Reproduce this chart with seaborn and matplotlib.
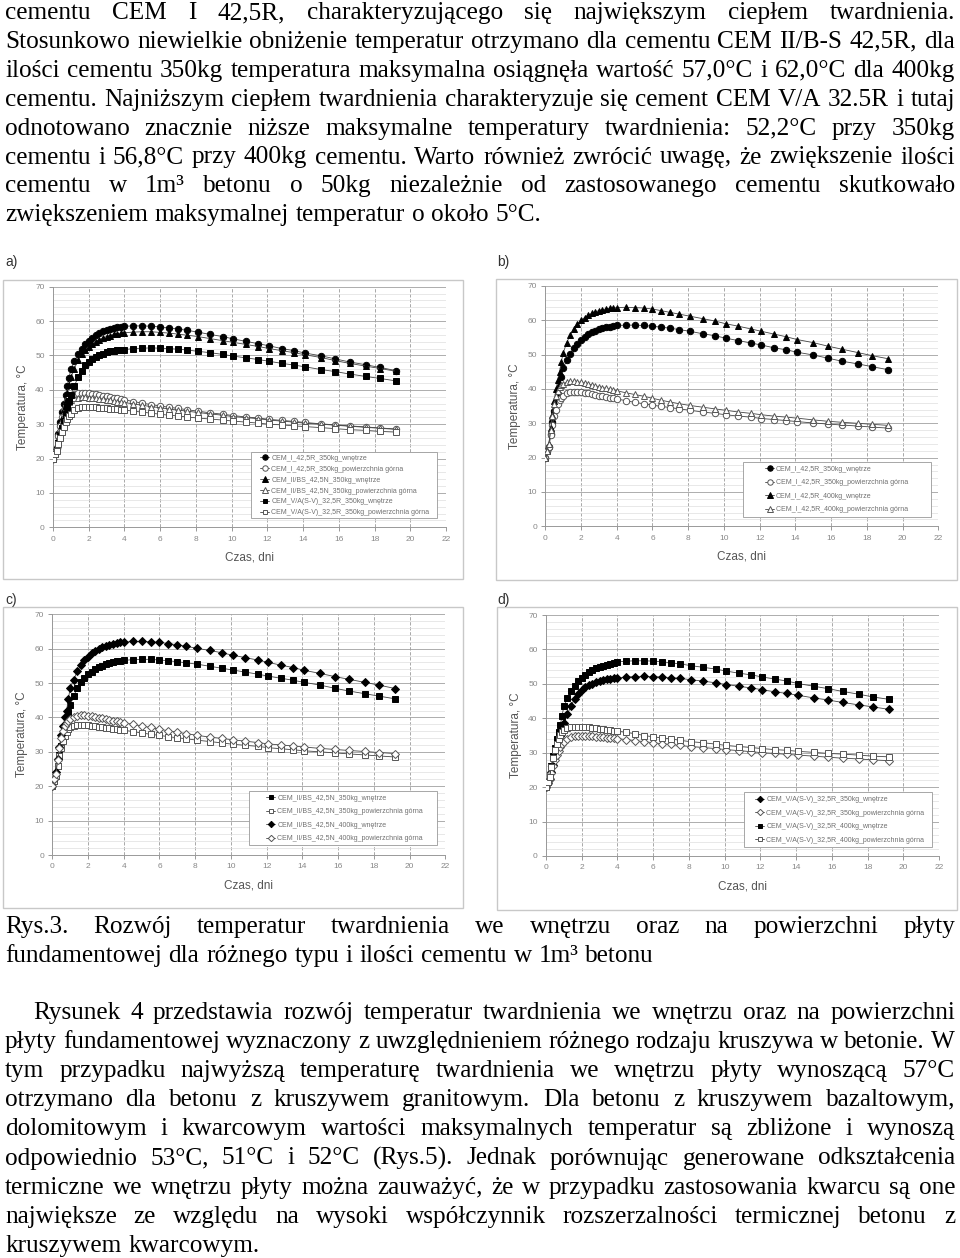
import matplotlib
matplotlib.use('Agg')
import matplotlib.pyplot as plt
from matplotlib.patches import Rectangle
from matplotlib.ticker import MultipleLocator
import seaborn as sns

# =========================
# DANE
# =========================

dni = [0, 0.1, 0.2, 0.3, 0.4, 0.5, 0.6, 0.7, 0.8, 0.9, 1.0, 1.2, 1.4, 1.6, 1.8, 2.0, 2.2, 2.4, 2.6, 2.8,
       3.0, 3.2, 3.4, 3.6, 3.8, 4.0, 4.5, 5.0, 5.5, 6.0, 6.5, 7.0, 7.5, 8.1, 8.8, 9.5, 10.1, 10.8, 11.5,
       12.1, 12.8, 13.5, 14.1, 15.0, 15.8, 16.6, 17.5, 18.3, 19.2]

# CEM I 42,5R
cem1_350_wn = [20, 21.8, 23.2, 27, 30.5, 33.5, 36, 38.5, 41, 43.5, 46, 48.4, 50.3, 51.9, 53.2, 54.3, 55.2,
               55.9, 56.5, 57.0, 57.4, 57.7, 58.0, 58.2, 58.4, 58.5, 58.6, 58.6, 58.5, 58.3, 58.0, 57.7,
               57.3, 56.8, 56.1, 55.5, 54.8, 54.1, 53.4, 52.8, 52.0, 51.4, 50.7, 49.9, 49.0, 48.1, 47.3,
               46.5, 45.6]
cem1_350_pow = [20, 21.8, 23.2, 26.5, 29.5, 32, 34, 35.5, 36.7, 37.5, 38.1, 38.7, 39.0, 39.1, 39.1, 39.0,
                38.9, 38.7, 38.5, 38.3, 38.1, 37.9, 37.7, 37.5, 37.3, 37.1, 36.6, 36.1, 35.7, 35.3, 34.9,
                34.6, 34.2, 33.8, 33.3, 32.9, 32.5, 32.1, 31.8, 31.4, 31.1, 30.8, 30.5, 30.1, 29.8, 29.5,
                29.2, 28.9, 28.6]
cem1_400_wn = [20, 22, 24, 28.5, 32.5, 36.5, 40, 42.5, 45, 48, 50.5, 53.5, 55.8, 57.6, 59.0, 60.0, 60.8,
               61.5, 62.0, 62.5, 62.8, 63.1, 63.3, 63.5, 63.6, 63.7, 63.8, 63.7, 63.6, 63.3, 62.8, 62.3,
               61.8, 61.2, 60.5, 59.8, 59.0, 58.3, 57.5, 56.8, 56.0, 55.2, 54.4, 53.5, 52.5, 51.6, 50.6,
               49.7, 48.8]
cem1_400_pow = [20, 22, 24, 28, 32, 35.5, 38, 39.5, 40.5, 41.1, 41.5, 42.0, 42.2, 42.2, 42.1, 41.9, 41.7,
                41.4, 41.2, 40.9, 40.7, 40.4, 40.2, 39.9, 39.7, 39.5, 38.9, 38.4, 37.9, 37.3, 36.7, 36.2,
                35.7, 35.2, 34.7, 34.2, 33.8, 33.3, 32.9, 32.5, 32.1, 31.8, 31.5, 31.0, 30.6, 30.3, 30.0,
                29.7, 29.4]

# CEM II/B-S 42,5N
cem2_350_wn = [20, 21.5, 23, 26, 29, 31.8, 34.3, 36.8, 39.2, 41.5, 43.6, 46.2, 48.6, 50.4, 51.6, 52.5,
               53.3, 54.0, 54.6, 55.1, 55.5, 55.8, 56.1, 56.3, 56.5, 56.6, 56.8, 56.9, 56.9, 56.7, 56.5,
               56.2, 55.9, 55.5, 54.9, 54.3, 53.8, 53.2, 52.6, 52.0, 51.4, 50.8, 50.2, 49.4, 48.5, 47.7,
               46.9, 46.2, 45.4]
cem2_350_pow = [20, 21.5, 23, 26, 28.8, 31.2, 33.2, 34.7, 35.8, 36.6, 37.1, 37.5, 37.7, 37.8, 37.8, 37.7,
                37.6, 37.5, 37.3, 37.2, 37.0, 36.9, 36.7, 36.6, 36.4, 36.3, 35.9, 35.5, 35.1, 34.8, 34.4,
                34.1, 33.8, 33.4, 33.0, 32.6, 32.2, 31.9, 31.6, 31.2, 30.9, 30.6, 30.3, 30.0, 29.7, 29.4,
                29.1, 28.8, 28.5]
cem2_400_wn = [20, 22, 24, 28, 31.5, 35, 37.5, 40, 42, 45.5, 48.5, 51.0, 53.5, 55.2, 56.6, 57.7, 58.6,
               59.3, 59.9, 60.4, 60.8, 61.1, 61.4, 61.6, 61.8, 61.9, 62.1, 62.1, 62.0, 61.8, 61.5, 61.1,
               60.7, 60.1, 59.5, 58.8, 58.1, 57.4, 56.7, 56.0, 55.2, 54.5, 53.7, 52.8, 51.9, 51.1, 50.2,
               49.4, 48.4]
cem2_400_pow = [20, 22, 23.5, 27.5, 31, 34, 36, 37.5, 38.5, 39.1, 39.5, 40.1, 40.4, 40.6, 40.6, 40.5,
                40.3, 40.1, 39.9, 39.7, 39.5, 39.3, 39.1, 38.9, 38.7, 38.5, 38.0, 37.5, 37.1, 36.6, 36.1,
                35.7, 35.3, 34.8, 34.3, 33.9, 33.5, 33.1, 32.7, 32.3, 32.0, 31.7, 31.4, 31.0, 30.7, 30.4,
                30.1, 29.8, 29.5]

# CEM V/A(S-V) 32,5R
cem5_350_wn = [20, 21.3, 22.5, 24.5, 26.5, 28.8, 31, 33, 35, 36.8, 38.5, 41.2, 43.6, 45.6, 47.1, 48.2,
               49.0, 49.6, 50.1, 50.5, 50.9, 51.2, 51.4, 51.5, 51.6, 51.7, 52.0, 52.1, 52.2, 52.1, 52.0,
               51.8, 51.6, 51.2, 50.8, 50.3, 49.8, 49.3, 48.8, 48.3, 47.7, 47.2, 46.7, 45.9, 45.3, 44.6,
               43.9, 43.3, 42.6]
cem5_350_pow = [20, 21.2, 22.3, 24.2, 26, 27.8, 29.3, 30.6, 31.6, 32.4, 33.1, 34.0, 34.6, 34.9, 35.0,
                35.0, 34.9, 34.9, 34.8, 34.7, 34.6, 34.5, 34.4, 34.3, 34.2, 34.1, 33.8, 33.5, 33.2, 32.9,
                32.6, 32.4, 32.1, 31.8, 31.5, 31.2, 30.9, 30.6, 30.3, 30.0, 29.8, 29.5, 29.3, 29.0, 28.7,
                28.4, 28.2, 27.9, 27.7]
cem5_400_wn = [20, 21.5, 23, 26, 29, 31.5, 34, 36, 38, 40.8, 43.5, 45.8, 47.8, 49.5, 50.8, 51.8, 52.7,
               53.4, 54.0, 54.5, 54.9, 55.3, 55.6, 55.9, 56.2, 56.4, 56.6, 56.7, 56.7, 56.6, 56.4, 56.1,
               55.8, 55.3, 54.8, 54.3, 53.7, 53.1, 52.6, 52.0, 51.4, 50.8, 50.1, 49.3, 48.6, 47.8, 47.0,
               46.2, 45.5]
cem5_400_pow = [20, 21.5, 23, 25.8, 28.5, 30.8, 32.6, 34.0, 35.1, 35.9, 36.5, 37.1, 37.4, 37.6, 37.6,
                37.6, 37.5, 37.4, 37.3, 37.1, 37.0, 36.9, 36.7, 36.6, 36.4, 36.3, 35.9, 35.5, 35.0, 34.6,
                34.3, 34.0, 33.6, 33.2, 32.9, 32.5, 32.1, 31.8, 31.5, 31.2, 30.9, 30.7, 30.4, 30.1, 29.8,
                29.6, 29.3, 29.0, 28.8]

# =========================
# TEKST STRONY
# =========================

tekst_gora = [
    ("cementu CEM I 42,5R, charakteryzującego się największym ciepłem twardnienia.", True),
    ("Stosunkowo niewielkie obniżenie temperatur otrzymano dla cementu CEM II/B-S 42,5R, dla", True),
    ("ilości cementu 350kg temperatura maksymalna osiągnęła wartość 57,0°C i 62,0°C dla 400kg", True),
    ("cementu. Najniższym ciepłem twardnienia charakteryzuje się cement CEM V/A 32.5R i tutaj", True),
    ("odnotowano znacznie niższe maksymalne temperatury twardnienia: 52,2°C przy 350kg", True),
    ("cementu i 56,8°C przy 400kg cementu. Warto również zwrócić uwagę, że zwiększenie ilości", True),
    ("cementu w 1m³ betonu o 50kg niezależnie od zastosowanego cementu skutkowało", True),
    ("zwiększeniem maksymalnej temperatur o około 5°C.", False),
]
podpis = [
    ("Rys.3. Rozwój temperatur twardnienia we wnętrzu oraz na powierzchni płyty", True),
    ("fundamentowej dla różnego typu i ilości cementu w 1m³ betonu", False),
]
tekst_dol = [
    ("Rysunek 4 przedstawia rozwój temperatur twardnienia we wnętrzu oraz na powierzchni", True),
    ("płyty fundamentowej wyznaczony z uwzględnieniem różnego rodzaju kruszywa w betonie. W", True),
    ("tym przypadku najwyższą temperaturę twardnienia we wnętrzu płyty wynoszącą 57°C", True),
    ("otrzymano dla betonu z kruszywem granitowym. Dla betonu z kruszywem bazaltowym,", True),
    ("dolomitowym i kwarcowym wartości maksymalnych temperatur są zbliżone i wynoszą", True),
    ("odpowiednio 53°C, 51°C i 52°C (Rys.5). Jednak porównując generowane odkształcenia", True),
    ("termiczne we wnętrzu płyty można zauważyć, że w przypadku zastosowania kwarcu są one", True),
    ("największe ze względu na wysoki współczynnik rozszerzalności termicznej betonu z", True),
    ("kruszywem kwarcowym.", False),
]

# =========================
# FIGURA
# =========================

sns.set_theme(style='white')
plt.rcParams['font.family'] = ['Liberation Sans', 'DejaVu Sans']

W, H = 960, 1258
fig = plt.figure(figsize=(W / 100, H / 100), dpi=100)
renderer = fig.canvas.get_renderer()

FS = 18.2  # pt
FS_PX = FS * 100 / 72
SERIF = ['Liberation Serif', 'DejaVu Serif']


def szerokosc(s):
    # szerokosc slowa mierzona miedzy dwoma znakami 'x' (blizej szerokosci "advance")
    t1 = fig.text(0, 0, 'x' + s + 'x', fontsize=FS, family=SERIF)
    t2 = fig.text(0, 0, 'xx', fontsize=FS, family=SERIF)
    w = t1.get_window_extent(renderer).width - t2.get_window_extent(renderer).width
    t1.remove()
    t2.remove()
    return w


def linia(txt, y_base, justuj, x0=5, x1=955):
    slowa = txt.split(' ')
    szer = [szerokosc(s) for s in slowa]
    if justuj and len(slowa) > 1:
        odstep = (x1 - x0 - sum(szer)) / (len(slowa) - 1)
    else:
        odstep = 0.27 * FS_PX
    x = x0
    for s, w in zip(slowa, szer):
        fig.text(x / W, 1 - y_base / H, s, fontsize=FS, family=SERIF, va='baseline', ha='left',
                 color='black')
        x += w + odstep


for i, (t, j) in enumerate(tekst_gora):
    linia(t, 19 + 28.9 * i, j)
for i, (t, j) in enumerate(podpis):
    linia(t, 933 + 29 * i, j)
for i, (t, j) in enumerate(tekst_dol):
    linia(t, 1019 + 29.1 * i, j, x0=33 if i == 0 else 5)


def osie(l, t, r, b):
    return fig.add_axes([l / W, 1 - b / H, (r - l) / W, (b - t) / H])


def ramka(l, t, r, b):
    fig.add_artist(Rectangle((l / W, 1 - b / H), (r - l) / W, (b - t) / H, transform=fig.transFigure,
                             fill=False, edgecolor='#c8c8c8', lw=1.0))


def seria(ax, y, lab, m, pelny, ms):
    sns.lineplot(x=dni, y=y, ax=ax, color='#444', lw=0.6, marker=m, markersize=ms,
                 markerfacecolor='black' if pelny else 'white',
                 markeredgecolor='black' if pelny else '#555', markeredgewidth=0.7,
                 label=lab, estimator=None, sort=False, zorder=3)


def styl(ax, box, anchor, lspace):
    ax.set_xlim(0, 22)
    ax.set_ylim(0, 70)
    ax.xaxis.set_major_locator(MultipleLocator(2))
    ax.yaxis.set_major_locator(MultipleLocator(10))
    ax.yaxis.set_minor_locator(MultipleLocator(2))
    ax.grid(True, axis='x', which='major', color='#9a9a9a', lw=0.6, ls=(0, (4, 2)))
    ax.grid(True, axis='y', which='major', color='#a0a0a0', lw=0.6)
    ax.grid(True, axis='y', which='minor', color='#dedede', lw=0.5)
    ax.set_axisbelow(True)
    for s in ['top', 'right']:
        ax.spines[s].set_visible(False)
    for s in ['left', 'bottom']:
        ax.spines[s].set_color('#999')
        ax.spines[s].set_linewidth(0.7)
    ax.tick_params(axis='both', which='major', labelsize=6, colors='#888', length=3, width=0.6,
                   direction='out', pad=3, bottom=True, left=True)
    ax.tick_params(axis='y', which='minor', length=0)
    ax.set_xlabel('Czas, dni', fontsize=8.5, color='#555')
    ax.set_ylabel('Temperatura, °C', fontsize=8.5, color='#555')
    ax.xaxis.set_label_coords(0.5, -0.10)
    ax.yaxis.set_label_coords(-0.062, 0.5)
    # ramka legendy (biala, szara krawedz) + sama legenda bez ramki
    x0, y0, x1, y1 = box
    ax.add_patch(Rectangle((x0, y0), x1 - x0, y1 - y0, transform=ax.transAxes, facecolor='white',
                           edgecolor='#999', lw=0.6, zorder=5))
    leg = ax.legend(loc='upper left', bbox_to_anchor=anchor, fontsize=5, frameon=False,
                    handlelength=1.3, handletextpad=0.3, labelspacing=lspace, borderpad=0,
                    borderaxespad=0, labelcolor='#707070', markerscale=0.85)
    leg.set_zorder(6)


# a)
ramka(3, 280, 463, 579)
fig.text(5 / W, 1 - 262 / H, 'a)', fontsize=10, color='#333', va='center')
ax = osie(53, 286.7, 446, 527.3)
seria(ax, cem1_350_wn, 'CEM_I_42,5R_350kg_wnętrze', 'o', True, 4.6)
seria(ax, cem1_350_pow, 'CEM_I_42,5R_350kg_powierzchnia górna', 'o', False, 4.6)
seria(ax, cem2_350_wn, 'CEM_II/BS_42,5N_350kg_wnętrze', '^', True, 4.8)
seria(ax, cem2_350_pow, 'CEM_II/BS_42,5N_350kg_powierzchnia górna', '^', False, 4.8)
seria(ax, cem5_350_wn, 'CEM_V/A(S-V)_32,5R_350kg_wnętrze', 's', True, 4.2)
seria(ax, cem5_350_pow, 'CEM_V/A(S-V)_32,5R_350kg_powierzchnia górna', 's', False, 4.2)
styl(ax, (0.504, 0.039, 0.977, 0.313), (0.527, 0.301), 0.56)

# b)
ramka(496, 279, 957, 580)
fig.text(497 / W, 1 - 262 / H, 'b)', fontsize=10, color='#333', va='center')
ax = osie(545.3, 286, 938.3, 526.3)
seria(ax, cem1_350_wn, 'CEM_I_42,5R_350kg_wnętrze', 'o', True, 4.6)
seria(ax, cem1_350_pow, 'CEM_I_42,5R_350kg_powierzchnia górna', 'o', False, 4.6)
seria(ax, cem1_400_wn, 'CEM_I_42,5R_400kg_wnętrze', '^', True, 4.8)
seria(ax, cem1_400_pow, 'CEM_I_42,5R_400kg_powierzchnia górna', '^', False, 4.8)
styl(ax, (0.503, 0.039, 0.981, 0.268), (0.559, 0.253), 0.95)

# c)
ramka(3, 607, 463, 908)
fig.text(5 / W, 1 - 600 / H, 'c)', fontsize=10, color='#333', va='center')
ax = osie(52.3, 614.3, 445.3, 855)
seria(ax, cem2_350_wn, 'CEM_II/BS_42,5N_350kg_wnętrze', 's', True, 4.2)
seria(ax, cem2_350_pow, 'CEM_II/BS_42,5N_350kg_powierzchnia górna', 's', False, 4.2)
seria(ax, cem2_400_wn, 'CEM_II/BS_42,5N_400kg_wnętrze', 'D', True, 3.8)
seria(ax, cem2_400_pow, 'CEM_II/BS_42,5N_400kg_powierzchnia górna', 'D', False, 3.8)
styl(ax, (0.5005, 0.042, 0.979, 0.266), (0.544, 0.250), 0.93)

# d)
ramka(497, 607, 957, 910)
fig.text(497 / W, 1 - 600 / H, 'd)', fontsize=10, color='#333', va='center')
ax = osie(546, 615, 939, 856)
seria(ax, cem5_350_wn, 'CEM_V/A(S-V)_32,5R_350kg_wnętrze', 'D', True, 3.8)
seria(ax, cem5_350_pow, 'CEM_V/A(S-V)_32,5R_350kg_powierzchnia górna', 'D', False, 3.8)
seria(ax, cem5_400_wn, 'CEM_V/A(S-V)_32,5R_400kg_wnętrze', 's', True, 4.2)
seria(ax, cem5_400_pow, 'CEM_V/A(S-V)_32,5R_400kg_powierzchnia górna', 's', False, 4.2)
styl(ax, (0.504, 0.037, 0.982, 0.266), (0.532, 0.248), 0.93)

fig.savefig('out.png', dpi=100)
